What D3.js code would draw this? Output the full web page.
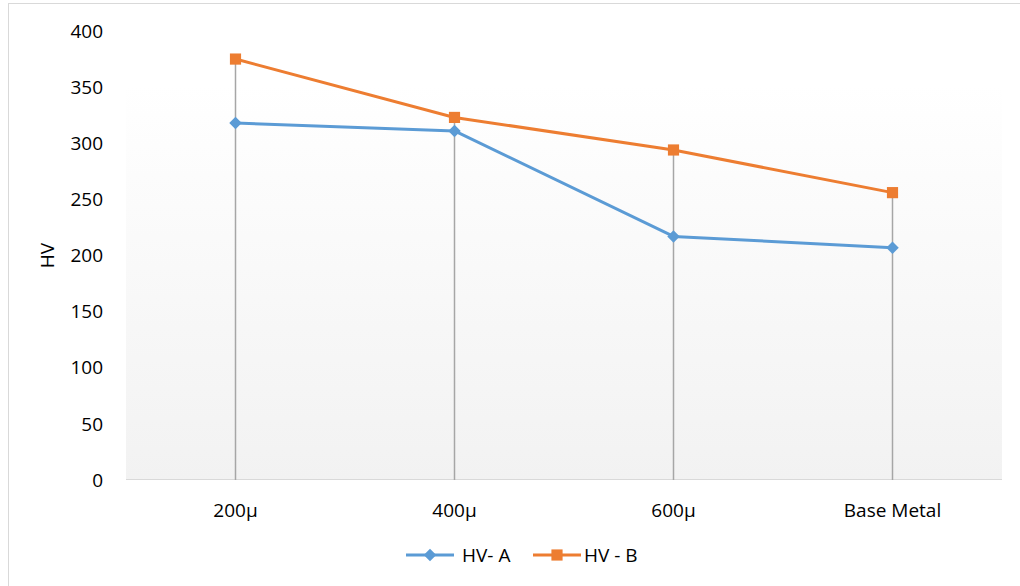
<!DOCTYPE html>
<html>
<head>
<meta charset="utf-8">
<script src="https://cdn.jsdelivr.net/npm/d3@7"></script>
<style>
  body { margin: 0; background: #fff; }
  svg text { font-family: "Open Sans", sans-serif; fill: #000; }
</style>
</head>
<body>
<svg id="chart" width="1020" height="586"></svg>
<script>
// data
const categories = ['200µ', '400µ', '600µ', 'Base Metal']
const hvA = [318, 311, 217, 207]
const hvB = [375, 323, 294, 256]
const yTicks = [0, 50, 100, 150, 200, 250, 300, 350, 400]
const seriesNames = ['HV- A', 'HV - B']

const blue = '#5b9bd5'
const orange = '#ed7d31'

const svg = d3.select('#chart')
const margin = {left: 126, right: 1002, top: 31, bottom: 480}

// outer chart frame
svg.append('rect')
  .attr('x', 8.5).attr('y', 3.5)
  .attr('width', 1030).attr('height', 600)
  .attr('fill', 'none')
  .attr('stroke', '#d9d9d9')
  .attr('stroke-width', 1)

let xScale = d3.scaleBand()
  .domain(categories)
  .range([margin.left, margin.right])

let yScale = d3.scaleLinear()
  .domain([0, 400])
  .range([margin.bottom, margin.top])

// plot background gradient
const grad = svg.append('defs').append('linearGradient')
  .attr('id', 'bg').attr('x1', 0).attr('x2', 0).attr('y1', 0).attr('y2', 1)
grad.append('stop').attr('offset', '0%').attr('stop-color', '#ffffff')
grad.append('stop').attr('offset', '100%').attr('stop-color', '#f2f2f2')

svg.append('rect')
  .attr('x', margin.left)
  .attr('y', yScale(352))
  .attr('width', margin.right - margin.left)
  .attr('height', margin.bottom - yScale(352))
  .attr('fill', 'url(#bg)')

// x axis line
svg.append('line')
  .attr('x1', margin.left).attr('x2', margin.right)
  .attr('y1', yScale(0) - 0.5).attr('y2', yScale(0) - 0.5)
  .attr('stroke', '#d9d9d9').attr('stroke-width', 1)

// drop lines from the highest point to the axis
svg.selectAll('.drop')
  .data(categories)
  .enter()
  .append('line')
  .attr('x1', d => xScale(d) + xScale.bandwidth() / 2)
  .attr('x2', d => xScale(d) + xScale.bandwidth() / 2)
  .attr('y1', (d, i) => yScale(Math.max(hvA[i], hvB[i])))
  .attr('y2', yScale(0))
  .attr('stroke', '#a6a6a6')
  .attr('stroke-width', 1.5)

// y tick labels
svg.selectAll('.ytick')
  .data(yTicks)
  .enter()
  .append('text')
  .attr('x', 103)
  .attr('y', d => yScale(d))
  .attr('dy', '0.35em')
  .attr('text-anchor', 'end')
  .style('font-size', '19px')
  .text(d => d)

// x tick labels
svg.selectAll('.xtick')
  .data(categories)
  .enter()
  .append('text')
  .attr('x', d => xScale(d) + xScale.bandwidth() / 2)
  .attr('y', 510)
  .attr('dy', '0.35em')
  .attr('text-anchor', 'middle')
  .style('font-size', '19px')
  .text(d => d)

// y axis title
svg.append('text')
  .attr('transform', `translate(54, ${yScale(200)}) rotate(-90)`)
  .attr('text-anchor', 'middle')
  .style('font-size', '19px')
  .text('HV')

let xPos = (d, i) => xScale(categories[i]) + xScale.bandwidth() / 2
let lineGen = d3.line().x(xPos).y(d => yScale(d))

const diamond = d3.symbol().type(d3.symbolDiamond2).size(100)
const square = d3.symbol().type(d3.symbolSquare).size(125)

// series A
svg.append('path')
  .attr('d', lineGen(hvA))
  .attr('fill', 'none').attr('stroke', blue).attr('stroke-width', 3)
  .attr('stroke-linejoin', 'round')
svg.selectAll('.markA')
  .data(hvA)
  .enter()
  .append('path')
  .attr('d', diamond)
  .attr('transform', (d, i) => `translate(${xPos(d, i)}, ${yScale(d)})`)
  .attr('fill', blue)

// series B
svg.append('path')
  .attr('d', lineGen(hvB))
  .attr('fill', 'none').attr('stroke', orange).attr('stroke-width', 3)
  .attr('stroke-linejoin', 'round')
svg.selectAll('.markB')
  .data(hvB)
  .enter()
  .append('path')
  .attr('d', square)
  .attr('transform', (d, i) => `translate(${xPos(d, i)}, ${yScale(d)})`)
  .attr('fill', orange)

// legend
const legendY = 555
const legendX = [406, 533]
const legendColors = [blue, orange]
const legendShapes = [diamond, square]
seriesNames.forEach((name, i) => {
  const g = svg.append('g').attr('transform', `translate(${legendX[i]}, ${legendY})`)
  g.append('line')
    .attr('x1', 0).attr('x2', 48)
    .attr('stroke', legendColors[i]).attr('stroke-width', 3)
  g.append('path')
    .attr('d', legendShapes[i])
    .attr('transform', 'translate(24, 0)')
    .attr('fill', legendColors[i])
  g.append('text')
    .attr('x', i == 0 ? 56 : 51)
    .attr('dy', '0.35em')
    .style('font-size', '19px')
    .text(name)
})
</script>
</body>
</html>
